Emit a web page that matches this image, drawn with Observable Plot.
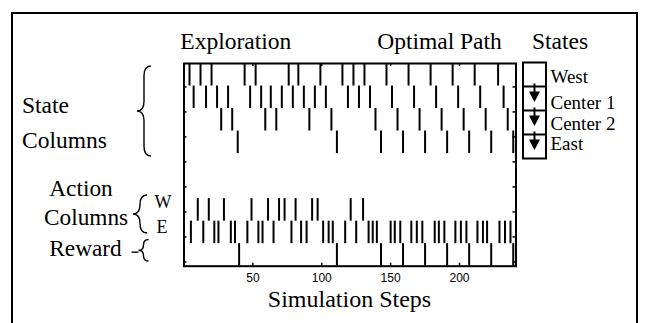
<!DOCTYPE html>
<html>
<head>
<meta charset="utf-8">
<script src="https://cdn.jsdelivr.net/npm/d3@7"></script>
<script src="https://cdn.jsdelivr.net/npm/@observablehq/plot@0.6"></script>
<style>
  html, body { margin: 0; padding: 0; background: #fff; }
  #chart { width: 649px; height: 323px; overflow: hidden; }
</style>
</head>
<body>
<div id="chart"></div>
<script>
// ---- data (simulation steps at which each row fires) ----
const rowNames = ["West", "Center 1", "Center 2", "East", "", "", "W", "E", "Reward"];
const westSteps = [4, 12, 20, 44, 52, 76, 83, 99, 115, 123, 131, 147, 163, 179, 195, 211, 228];
const center1Steps = [7, 16, 24, 32, 48, 56, 63, 71, 79, 87, 95, 103, 119, 127, 135, 151, 167, 183, 199, 215, 232];
const center2Steps = [27, 35, 59, 67, 91, 107, 139, 155, 171, 187, 203, 219, 235];
const eastSteps = [39, 111, 143, 159, 175, 191, 207, 223, 239];
const actionWSteps = [10, 18, 29, 49, 61, 69, 73, 81, 93, 97, 121, 130];
const actionESteps = [5, 14, 22, 25, 34, 37, 46, 54, 57, 65, 78, 85, 89, 101, 105, 108, 117, 125, 134, 137, 140, 150, 153, 157, 165, 169, 173, 182, 185, 189, 197, 201, 205, 213, 217, 220, 229, 233, 237];
const rewardSteps = [40, 111, 143, 159, 175, 191, 207, 223, 239];
const xTicks = [50, 100, 150, 200];
const yTicks = [1.04, 2.15, 3.26, 4.37, 5.48, 6.59, 7.7, 8.81];
const legendStates = ["West", "Center 1", "Center 2", "East"];
const topTitles = ["Exploration", "Optimal Path", "States"];
const xLabel = "Simulation Steps";

const rowSeries = [
  [0, westSteps], [1, center1Steps], [2, center2Steps], [3, eastSteps],
  [6, actionWSteps], [7, actionESteps], [8, rewardSteps]
];
const events = rowSeries.flatMap(([row, steps]) => steps.map(step => ({row, step})));

const W = 649, H = 323;
const mL = 183.5, mR = 133.5, mT = 63, mB = 57.3;
const xMax = 241, yMax = 9;
const pxX = xMax / (W - mL - mR);   // data units per pixel in x
const pxY = yMax / (H - mT - mB);   // data units per pixel in y
const tickLen = 3;

const plot = Plot.plot({
  width: W, height: H,
  marginLeft: mL, marginRight: mR, marginTop: mT, marginBottom: mB,
  style: {fontFamily: "'Liberation Sans', Arial, sans-serif", fontSize: "12px", background: "white", overflow: "visible"},
  x: {domain: [0, xMax]},
  y: {domain: [0, yMax], reverse: true, axis: null},
  marks: [
    Plot.ruleX(events, {x: "step", y1: "row", y2: d => d.row + 1, stroke: "black", strokeWidth: 2}),
    // inward ticks on all four sides
    Plot.ruleX(xTicks, {x: d => d, y1: yMax, y2: yMax - tickLen * pxY, stroke: "black", strokeWidth: 1.5}),
    Plot.ruleX(xTicks, {x: d => d, y1: 0, y2: tickLen * pxY, stroke: "black", strokeWidth: 1.5}),
    Plot.ruleY(yTicks, {y: d => d, x1: 0, x2: tickLen * pxX, stroke: "black", strokeWidth: 1.5}),
    Plot.ruleY(yTicks, {y: d => d, x1: xMax, x2: xMax - tickLen * pxX, stroke: "black", strokeWidth: 1.5}),
    Plot.axisX({ticks: xTicks, tickSize: 0, tickPadding: 7, label: null, fill: "black"}),
    Plot.frame({stroke: "black", strokeWidth: 2})
  ]
});
document.getElementById("chart").appendChild(plot);

// ---- annotations drawn on the same SVG ----
const svg = d3.select(plot);
const sx = plot.scale("x"), sy = plot.scale("y");
const serif = "'Liberation Serif', 'Times New Roman', serif";
function addText(x, y, str, size, anchor = "start") {
  svg.append("text").attr("x", x).attr("y", y).attr("text-anchor", anchor)
    .attr("font-family", serif).attr("font-size", size).attr("fill", "black").text(str);
}
function bracePath(x, y1, y2, w) {
  const ym = (y1 + y2) / 2, r = w / 2, k = Math.min(r * 1.4, (y2 - y1) / 4);
  return `M${x + w},${y1} Q${x + r},${y1} ${x + r},${y1 + k} L${x + r},${ym - k} Q${x + r},${ym} ${x},${ym} ` +
         `Q${x + r},${ym} ${x + r},${ym + k} L${x + r},${y2 - k} Q${x + r},${y2} ${x + w},${y2}`;
}
function addBrace(x, y1, y2, w) {
  svg.append("path").attr("d", bracePath(x, y1, y2, w)).attr("fill", "none")
    .attr("stroke", "black").attr("stroke-width", 1.4);
}

// outer figure border
svg.append("rect").attr("x", 12).attr("y", 13).attr("width", 625).attr("height", 340)
  .attr("fill", "none").attr("stroke", "black").attr("stroke-width", 2);

// titles
addText(235.8, 49, topTitles[0], 23.5, "middle");
addText(439.5, 49, topTitles[1], 23.5, "middle");
addText(560, 49, topTitles[2], 23.5, "middle");
addText((mL + W - mR) / 2, 307, xLabel, 24, "middle");

// left labels
addText(22, 113, "State", 23.5);
addText(22, 148, "Columns", 23.5);
addBrace(137, 66, 156, 14);
addText(49.3, 196, "Action", 23.3);
addText(44, 225, "Columns", 23.3);
addBrace(133, 195, 233, 14);
addText(163, 207.5, rowNames[6], 18, "middle");
addText(162, 232.5, rowNames[7], 18, "middle");
addText(49.3, 256, rowNames[8], 23.3);
svg.append("line").attr("x1", 131.5).attr("x2", 138.5).attr("y1", sy.apply(8.4)).attr("y2", sy.apply(8.4))
  .attr("stroke", "black").attr("stroke-width", 1.4);
addBrace(138.5, 239.5, 261, 10);

// legend on the right
const lx = 523, lw = 23, lTop = 62.5, cell = 24;
svg.append("rect").attr("x", lx).attr("y", lTop).attr("width", lw).attr("height", cell * 4)
  .attr("fill", "none").attr("stroke", "black").attr("stroke-width", 2);
legendStates.forEach((name, i) => {
  const top = lTop + i * cell;
  if (i > 0) {
    svg.append("line").attr("x1", lx).attr("x2", lx + lw).attr("y1", top).attr("y2", top)
      .attr("stroke", "black").attr("stroke-width", 2);
    const cx = lx + lw / 2;
    svg.append("line").attr("x1", cx).attr("x2", cx).attr("y1", top - 3).attr("y2", top + 6)
      .attr("stroke", "black").attr("stroke-width", 2);
    svg.append("path").attr("d", `M${cx - 5.5},${top + 5} L${cx + 5.5},${top + 5} L${cx},${top + 15.5} Z`)
      .attr("fill", "black");
  }
  addText(550.5, [83.3, 109, 129.5, 150][i], name, 19);
});
</script>
</body>
</html>
